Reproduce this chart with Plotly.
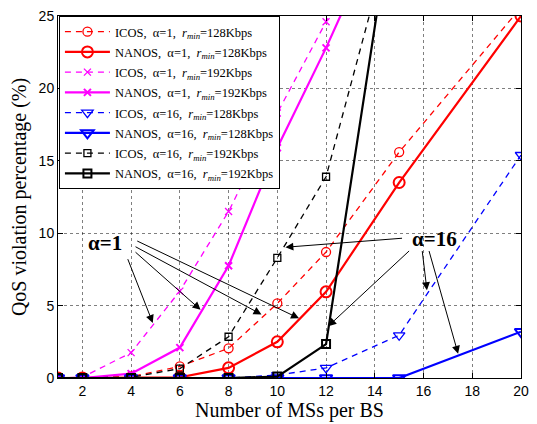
import plotly.graph_objects as go

# Number of mobile stations per base station
ms_all = [1, 2, 4, 6, 8, 10, 12, 15, 20]
ms_short = [1, 2, 4, 6, 8, 10, 12, 15]

# QoS violation percentage (%) per scheme
icos_a1_128 = [0, 0, 0.1, 0.8, 2.05, 5.15, 8.7, 15.6, 25.6]
nanos_a1_128 = [0, 0, 0, 0.05, 0.7, 2.5, 5.95, 13.5, 25.0]
icos_a1_192 = [0, 0.05, 1.75, 6.0, 11.5, 18.3, 24.6, 36.0]
nanos_a1_192 = [0, 0, 0.3, 2.1, 7.75, 15.9, 22.8, 34.0]
icos_a16_128 = [0, 0, 0, 0, 0, 0.2, 0.7, 2.95, 15.4]
nanos_a16_128 = [0, 0, 0, 0, 0, 0, 0, 0, 3.2]
icos_a16_192 = [0, 0, 0.05, 0.65, 2.85, 8.3, 13.9, 32.7]
nanos_a16_192 = [0, 0, 0, 0, 0, 0.1, 2.34, 35.2]

x_ticks = [2, 4, 6, 8, 10, 12, 14, 16, 18, 20]
y_ticks = [0, 5, 10, 15, 20, 25]

RMIN = "<i>r</i><sub><i>min</i></sub>"

series = [
    ("ICOS,  α=1,  " + RMIN + "=128Kbps", ms_all, icos_a1_128, "#ff0000", "dash", "circle-open", 9),
    ("NANOS,  α=1,  " + RMIN + "=128Kbps", ms_all, nanos_a1_128, "#ff0000", "solid", "circle-open", 11),
    ("ICOS,  α=1,  " + RMIN + "=192Kbps", ms_short, icos_a1_192, "#ff00ff", "dash", "x-thin-open", 7),
    ("NANOS,  α=1,  " + RMIN + "=192Kbps", ms_short, nanos_a1_192, "#ff00ff", "solid", "x-thin-open", 7),
    ("ICOS,  α=16,  " + RMIN + "=128Kbps", ms_all, icos_a16_128, "#0000ff", "dash", "triangle-down-open", 10),
    ("NANOS,  α=16,  " + RMIN + "=128Kbps", ms_all, nanos_a16_128, "#0000ff", "solid", "triangle-down-open", 11),
    ("ICOS,  α=16,  " + RMIN + "=192Kbps", ms_short, icos_a16_192, "#000000", "dash", "square-open", 7),
    ("NANOS,  α=16,  " + RMIN + "=192Kbps", ms_short, nanos_a16_192, "#000000", "solid", "square-open", 8),
]

fig = go.Figure()
for i, (name, xs, ys, color, dash, symbol, size) in enumerate(series):
    solid = dash == "solid"
    fig.add_trace(go.Scatter(
        x=xs, y=ys, name=name, mode="lines+markers", legendgroup=f"g{i}",
        line=dict(color=color, width=2.2 if solid else 1.3,
                  dash="solid" if solid else "6px,5px"),
        marker=dict(symbol=symbol, size=size, color=color,
                    line=dict(color=color, width=2 if solid else 1.3)),
    ))

SERIF = "Liberation Serif, Times New Roman, serif"
SANS = "Liberation Sans, Arial, sans-serif"

# Arrow annotations: (head_x, head_y, tail_x, tail_y)
arrows = [
    (4.89, 3.80, 3.84, 8.31),
    (6.85, 4.71, 4.12, 8.78),
    (9.35, 4.39, 4.12, 9.12),
    (10.89, 4.12, 4.19, 9.51),
    (10.33, 9.03, 15.18, 9.66),
    (12.09, 3.58, 15.47, 8.87),
    (16.14, 6.06, 15.94, 8.87),
    (17.42, 1.67, 16.21, 8.87),
]
for hx, hy, tx, ty in arrows:
    fig.add_annotation(x=hx, y=hy, ax=tx, ay=ty, xref="x", yref="y",
                       axref="x", ayref="y", text="", showarrow=True,
                       arrowhead=2, arrowsize=1.6, arrowwidth=1,
                       arrowcolor="black")

fig.add_annotation(x=2.94, y=9.32, xref="x", yref="y", text="<b>α=1</b>",
                   showarrow=False, font=dict(family=SERIF, size=21, color="black"))
fig.add_annotation(x=16.44, y=9.59, xref="x", yref="y", text="<b>α=16</b>",
                   showarrow=False, font=dict(family=SERIF, size=21, color="black"))

axis_common = dict(
    showline=True, linecolor="black", linewidth=1, mirror="ticks",
    ticks="inside", ticklen=5, tickcolor="black",
    showgrid=True, gridcolor="rgba(0,0,0,0.5)", griddash="dot", gridwidth=1,
    zeroline=False, tickfont=dict(family=SANS, size=14, color="black"),
)

fig.update_xaxes(range=[1, 20], tickvals=x_ticks,
                 title=dict(text="Number of MSs per BS",
                            font=dict(family=SERIF, size=20, color="black"),
                            standoff=2),
                 **axis_common)
fig.update_yaxes(range=[0, 25], tickvals=y_ticks,
                 title=dict(text="QoS violation percentage (%)",
                            font=dict(family=SERIF, size=20, color="black"),
                            standoff=6),
                 **axis_common)

fig.update_layout(
    width=537, height=424,
    margin=dict(l=58, r=10, t=8, b=46),
    plot_bgcolor="white", paper_bgcolor="white",
    legend=dict(x=0.002, y=1, xanchor="left", yanchor="top",
                bgcolor="white", bordercolor="black", borderwidth=1,
                font=dict(family=SERIF, size=12.5, color="black"),
                tracegroupgap=1, itemwidth=45),
)

fig.write_html("out.html")
